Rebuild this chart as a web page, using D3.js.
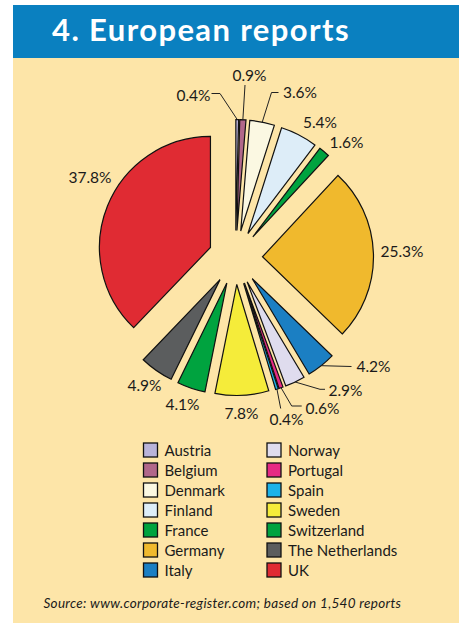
<!DOCTYPE html>
<html>
<head>
<meta charset="utf-8">
<script src="https://cdn.jsdelivr.net/npm/d3@7"></script>
<style>
  html, body { margin: 0; padding: 0; background: #fff; }
  svg { display: block; }
</style>
</head>
<body>
<svg id="chart" width="459" height="623"></svg>
<script>
// chart data
const countries = ['Austria', 'Belgium', 'Denmark', 'Finland', 'France', 'Germany', 'Italy',
  'Norway', 'Portugal', 'Spain', 'Sweden', 'Switzerland', 'The Netherlands', 'UK'];
const shares = [0.4, 0.9, 3.6, 5.4, 1.6, 25.3, 4.2, 2.9, 0.6, 0.4, 7.8, 4.1, 4.9, 37.8];
const colours = ['#b9b3d9', '#b1678a', '#fbf8e2', '#ddedf8', '#00a33f', '#f0b92d', '#1b7fc3',
  '#dfdcee', '#e62a84', '#1cb3e9', '#f5ec3a', '#00a33f', '#5b5d5e', '#e02b33'];
const leftLegend = countries.slice(0, 7);
const rightLegend = countries.slice(7);

// label placement (page coords), and leader elbows where the reference draws them
const labelPos = {
  'Austria': [193.5, 95], 'Belgium': [249.5, 75], 'Denmark': [300, 91.5],
  'Finland': [320, 122], 'France': [346.5, 142], 'Germany': [402, 251],
  'Italy': [373.5, 365.5], 'Norway': [345.5, 389.5], 'Portugal': [322.5, 407.5],
  'Spain': [286.5, 419], 'Sweden': [241.5, 412.5], 'Switzerland': [182.5, 404],
  'The Netherlands': [144.5, 385], 'UK': [90, 177]
};
const leaders = {
  'Austria': [[220, 93.5], [211.5, 93.5]],
  'Belgium': [[245, 85]],
  'Denmark': [[271.5, 92.5], [278.5, 92.5]],
  'Italy': [[351.5, 366.5]],
  'Norway': [[320, 389.3], [325, 389.3]],
  'Portugal': [[291.7, 406], [301.7, 406]],
  'Spain': [[280.7, 408.5]]
};

const svg = d3.select('#chart');
const font = 'Lato, "DejaVu Sans", sans-serif';

// background panel and title bar
svg.append('rect').attr('x', 13).attr('y', 5).attr('width', 446).attr('height', 618).attr('fill', '#fde5a8');
svg.append('rect').attr('x', 13).attr('y', 5).attr('width', 446).attr('height', 53).attr('fill', '#0a80c0');
svg.append('text')
  .attr('x', 52).attr('y', 41)
  .attr('fill', '#fff')
  .attr('font-family', font)
  .attr('font-weight', 700)
  .attr('font-size', 31)
  .attr('letter-spacing', 1.4)
  .text('4. European reports');

// exploded pie
const cx = 235.5, cy = 257.5, radius = 111, explode = 27;
const pie = d3.pie().sort(null).value((d) => d.value);
const arc = d3.arc().innerRadius(0).outerRadius(radius);
const data = countries.map((c, i) => ({ name: c, value: shares[i], color: colours[i] }));
const arcs = pie(data);

const offsetOf = (d) => {
  const mid = (d.startAngle + d.endAngle) / 2;
  return [Math.sin(mid) * explode, -Math.cos(mid) * explode];
};

const pieG = svg.append('g').attr('transform', `translate(${cx},${cy})`);
pieG.selectAll('path.slice')
  .data(arcs)
  .enter()
  .append('path')
  .attr('class', 'slice')
  .attr('transform', (d) => `translate(${offsetOf(d)})`)
  .attr('d', arc)
  .attr('fill', (d) => d.data.color)
  .attr('stroke', '#111')
  .attr('stroke-width', 1.2)
  .attr('stroke-linejoin', 'miter');

// leader lines from the outer arc midpoint
const line = d3.line();
arcs.forEach((d) => {
  const elbows = leaders[d.data.name];
  if (!elbows) return;
  const mid = (d.startAngle + d.endAngle) / 2;
  const [ox, oy] = offsetOf(d);
  const start = [cx + ox + Math.sin(mid) * radius, cy + oy - Math.cos(mid) * radius];
  svg.append('path')
    .attr('d', line([start, ...elbows]))
    .attr('fill', 'none')
    .attr('stroke', '#222')
    .attr('stroke-width', 1);
});

// percentage labels
svg.selectAll('text.pct')
  .data(arcs)
  .enter()
  .append('text')
  .attr('class', 'pct')
  .attr('x', (d) => labelPos[d.data.name][0])
  .attr('y', (d) => labelPos[d.data.name][1])
  .attr('text-anchor', 'middle')
  .attr('dominant-baseline', 'central')
  .attr('font-family', font)
  .attr('font-size', 15.5)
  .attr('fill', '#1a1a1a')
  .text((d) => `${d.data.value.toFixed(1)}%`);

// legend
const rowY = d3.scalePoint().domain(d3.range(7)).range([450, 570]);
const colourOf = d3.scaleOrdinal().domain(countries).range(colours);
[[leftLegend, 143.5], [rightLegend, 267]].forEach(([names, x0]) => {
  const g = svg.append('g');
  const item = g.selectAll('g')
    .data(names)
    .enter()
    .append('g')
    .attr('transform', (d, i) => `translate(${x0},${rowY(i)})`);
  item.append('rect')
    .attr('x', 0).attr('y', -7)
    .attr('width', 14).attr('height', 14)
    .attr('fill', (d) => colourOf(d))
    .attr('stroke', '#111')
    .attr('stroke-width', 1.3);
  item.append('text')
    .attr('x', 21).attr('y', 0)
    .attr('dominant-baseline', 'central')
    .attr('font-family', font)
    .attr('font-size', 15)
    .attr('fill', '#1a1a1a')
    .text((d) => d);
});

// source note
svg.append('text')
  .attr('x', 43.5).attr('y', 603)
  .attr('dominant-baseline', 'central')
  .attr('font-family', font)
  .attr('font-style', 'italic')
  .attr('font-size', 13.5)
  .attr('letter-spacing', 0.3)
  .attr('fill', '#1a1a1a')
  .text('Source: www.corporate-register.com; based on 1,540 reports');
</script>
</body>
</html>
